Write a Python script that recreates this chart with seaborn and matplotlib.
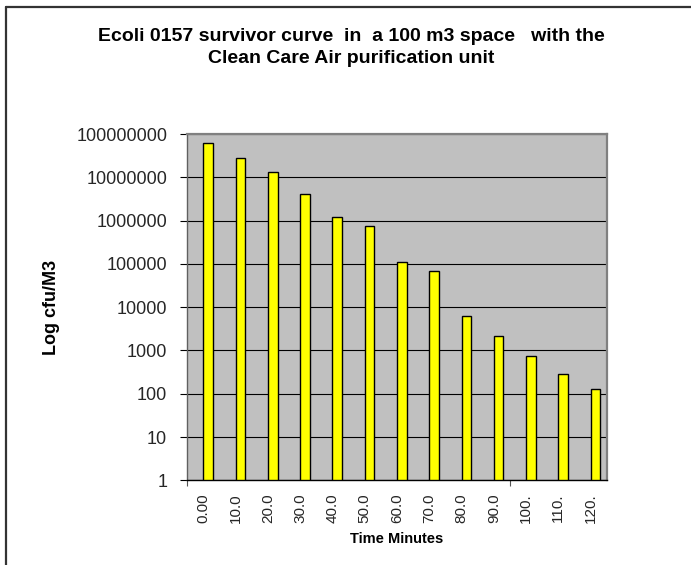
import numpy as np
import pandas as pd
import matplotlib
matplotlib.use("Agg")
import matplotlib.pyplot as plt
from matplotlib.lines import Line2D
from matplotlib.ticker import FixedLocator, FuncFormatter
import seaborn as sns

# Survivor counts (cfu per m3) sampled every 10 minutes
time_labels = ["0.00", "10.0", "20.0", "30.0", "40.0", "50.0", "60.0",
               "70.0", "80.0", "90.0", "100.", "110.", "120."]
cfu_per_m3 = [6.2e7, 2.75e7, 1.3e7, 4.05e6, 1.23e6, 7.6e5, 1.12e5,
              7.0e4, 6.3e3, 2.13e3, 735, 283, 129]
y_ticks = [1, 10, 100, 1000, 10000, 100000, 1000000, 10000000, 100000000]

# Two-series layout: an empty placeholder series sits beside the data series
series_order = ["placeholder", "E. coli O157"]
df = pd.DataFrame({
    "time": time_labels * 2,
    "cfu": [np.nan] * len(time_labels) + cfu_per_m3,
    "series": [series_order[0]] * len(time_labels) + [series_order[1]] * len(time_labels),
})

sns.set_theme(style="white")
plt.rcParams["font.family"] = ["Liberation Sans", "DejaVu Sans"]

fig = plt.figure(figsize=(6.91, 5.65), dpi=100)
ax = fig.add_axes([0.2711, 0.1499, 0.6069, 0.6129])
ax.set_facecolor("#C0C0C0")
ax.set_yscale("log")

sns.barplot(data=df, x="time", y="cfu", hue="series", hue_order=series_order,
            order=time_labels, palette=["#FFFF00", "#FFFF00"], saturation=1,
            width=0.6, edgecolor="black", linewidth=1.0, legend=False, ax=ax)

ax.set_ylim(1, 1e8)
ax.set_xlim(-0.5, len(time_labels) - 0.5)
ax.yaxis.set_major_locator(FixedLocator(y_ticks))
ax.yaxis.set_minor_locator(FixedLocator([]))
ax.yaxis.set_major_formatter(FuncFormatter(lambda v, p: f"{int(round(v))}"))
ax.grid(axis="y", which="major", color="black", linewidth=0.8)
ax.grid(axis="x", visible=False)
ax.set_axisbelow(True)

ax.tick_params(axis="y", which="major", direction="out", length=5, width=0.8,
               color="black", pad=9.5, labelsize=13, left=True)
ax.set_xticks(range(len(time_labels)))
ax.set_xticklabels(time_labels, rotation=90)
ax.tick_params(axis="x", which="major", length=0, pad=9.5, labelsize=11)
ax.set_xticks([-0.5, 9.5], minor=True)
ax.tick_params(axis="x", which="minor", direction="out", length=4, width=0.8,
               color="#555555", bottom=True)

for side in ("top", "right"):
    ax.spines[side].set_color("#808080")
    ax.spines[side].set_linewidth(1.6)
ax.spines["left"].set_color("#606060")
ax.spines["left"].set_linewidth(1.0)
ax.spines["bottom"].set_color("black")
ax.spines["bottom"].set_linewidth(1.0)

ax.set_ylabel("Log cfu/M3", fontsize=13, fontweight="bold", color="black")
ax.yaxis.set_label_coords(-0.303, 0.5)
ax.set_xlabel("Time Minutes", fontsize=10.5, fontweight="bold", color="black")
ax.xaxis.set_label_coords(0.5, -0.148)

fig.text(351 / 691, 1 - 28 / 565,
         "Ecoli 0157 survivor curve  in  a 100 m3 space   with the\n"
         "Clean Care Air purification unit",
         ha="center", va="top", ma="center", fontsize=14, fontweight="bold",
         linespacing=1.4, color="black")

# Chart frame (left and top edges)
fig.add_artist(Line2D([6 / 691, 6 / 691], [0, 1 - 7 / 565], transform=fig.transFigure,
                      color="#333333", linewidth=1.6))
fig.add_artist(Line2D([6 / 691, 1], [1 - 7 / 565, 1 - 7 / 565], transform=fig.transFigure,
                      color="#333333", linewidth=1.6))

fig.savefig("out.png", dpi=100)
